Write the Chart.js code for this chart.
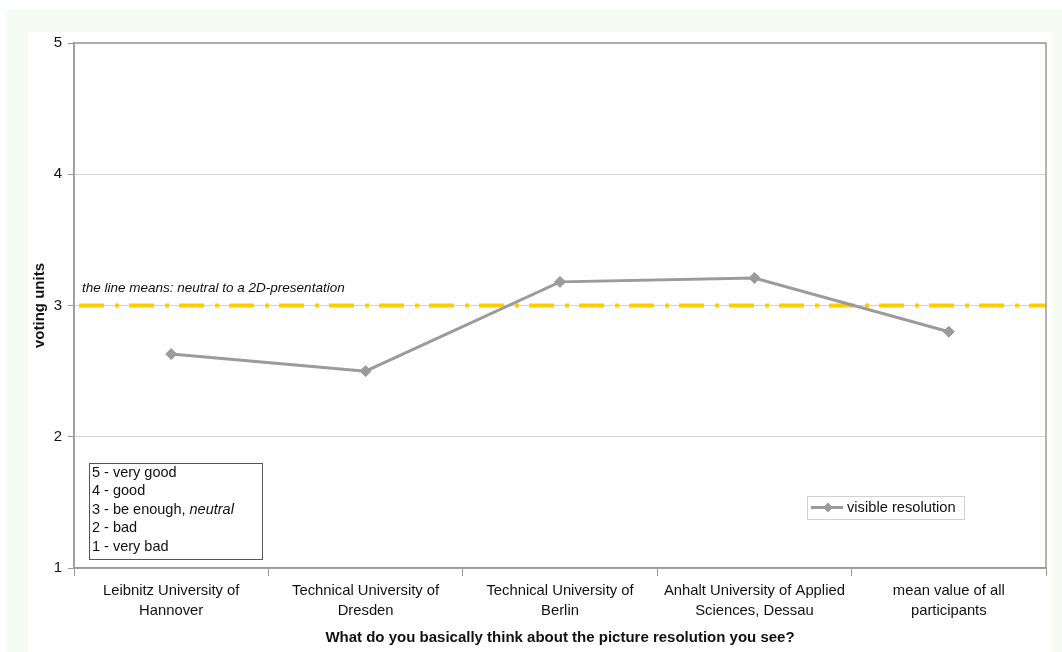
<!DOCTYPE html>
<html>
<head>
<meta charset="utf-8">
<script src="https://cdn.jsdelivr.net/npm/chart.js@4/dist/chart.umd.min.js"></script>
<style>
  html, body { margin: 0; padding: 0; background: #fff; }
  #wrap { width: 1062px; height: 652px; position: relative; }
</style>
</head>
<body>
<div id="wrap"><canvas id="c" width="1062" height="652"></canvas></div>
<script>
// Survey answers per group (voting units, 1 = very bad ... 5 = very good)
const categories = [
  ['Leibnitz University of', 'Hannover'],
  ['Technical University of', 'Dresden'],
  ['Technical University of', 'Berlin'],
  ['Anhalt University of Applied', 'Sciences, Dessau'],
  ['mean value of all', 'participants']
];
const seriesName = 'visible resolution';
const visibleResolution = [2.63, 2.50, 3.18, 3.21, 2.80];
const yTicks = [1, 2, 3, 4, 5];
const neutralValue = 3;
const neutralNote = 'the line means: neutral to a 2D-presentation';
const scaleKey = [
  ['5 - very good', ''],
  ['4 - good', ''],
  ['3 - be enough, ', 'neutral'],
  ['2 - bad', ''],
  ['1 - very bad', '']
];
const xTitle = 'What do you basically think about the picture resolution you see?';
const yTitle = 'voting units';

const FONT = "Arial, 'Liberation Sans', Helvetica, sans-serif";
const LINE_GREY = '#9b9b9b';

// page frame, plot border, neutral line and the two key boxes
const decor = {
  id: 'decor',
  beforeDraw(chart) {
    const ctx = chart.ctx;
    ctx.save();
    ctx.fillStyle = '#ffffff';
    ctx.fillRect(0, 0, chart.width, chart.height);
    ctx.fillStyle = '#f6fbf3';
    ctx.fillRect(7, 10, chart.width - 7, chart.height - 10);
    ctx.fillStyle = '#ffffff';
    ctx.fillRect(28, 32, 1024, chart.height - 32);
    ctx.restore();
  },
  beforeDatasetsDraw(chart) {
    const ctx = chart.ctx;
    const a = chart.chartArea;
    const y = chart.scales.y.getPixelForValue(neutralValue);
    ctx.save();
    // neutral reference line (dash-dot)
    ctx.strokeStyle = '#ffcc00';
    ctx.lineWidth = 4;
    ctx.setLineDash([25, 11, 4, 10]);
    ctx.lineDashOffset = -5;
    ctx.beginPath();
    ctx.moveTo(a.left, y);
    ctx.lineTo(a.right, y);
    ctx.stroke();
    ctx.setLineDash([]);
    // note above the line
    ctx.fillStyle = '#111';
    ctx.font = 'italic 13.5px ' + FONT;
    ctx.textBaseline = 'middle';
    ctx.textAlign = 'left';
    ctx.fillText(neutralNote, a.left + 8, y - 17);
    ctx.restore();
  },
  afterDraw(chart) {
    const ctx = chart.ctx;
    const a = chart.chartArea;
    ctx.save();
    // plot area outline
    ctx.strokeStyle = LINE_GREY;
    ctx.lineWidth = 1.5;
    ctx.strokeRect(a.left, a.top, a.right - a.left, a.bottom - a.top);

    // scale key box
    const kx = a.left + 15, ky = 463, kw = 173, kh = 96;
    ctx.fillStyle = '#fff';
    ctx.fillRect(kx, ky, kw, kh);
    ctx.strokeStyle = '#555';
    ctx.lineWidth = 1;
    ctx.strokeRect(kx + 0.5, ky + 0.5, kw, kh);
    ctx.fillStyle = '#111';
    ctx.textBaseline = 'middle';
    ctx.textAlign = 'left';
    scaleKey.forEach((row, i) => {
      const ty = ky + 9.5 + i * 18.6;
      ctx.font = '14.5px ' + FONT;
      ctx.fillText(row[0], kx + 3, ty);
      if (row[1]) {
        const w = ctx.measureText(row[0]).width;
        ctx.font = 'italic 14.5px ' + FONT;
        ctx.fillText(row[1], kx + 3 + w, ty);
      }
    });

    // series legend
    const lx = 807, ly = 496, lw = 157, lh = 23;
    ctx.fillStyle = '#fff';
    ctx.fillRect(lx, ly, lw, lh);
    ctx.strokeStyle = '#d0d0d0';
    ctx.strokeRect(lx + 0.5, ly + 0.5, lw, lh);
    const my = ly + lh / 2;
    ctx.strokeStyle = LINE_GREY;
    ctx.lineWidth = 3;
    ctx.beginPath();
    ctx.moveTo(lx + 4, my);
    ctx.lineTo(lx + 36, my);
    ctx.stroke();
    ctx.fillStyle = LINE_GREY;
    ctx.beginPath();
    const cx = lx + 21;
    ctx.moveTo(cx, my - 5); ctx.lineTo(cx + 5, my); ctx.lineTo(cx, my + 5); ctx.lineTo(cx - 5, my);
    ctx.closePath();
    ctx.fill();
    ctx.fillStyle = '#111';
    ctx.font = '14.7px ' + FONT;
    ctx.fillText(seriesName, lx + 40, my + 0.5);
    ctx.restore();
  }
};

new Chart(document.getElementById('c'), {
  type: 'line',
  data: {
    labels: categories,
    datasets: [{
      label: seriesName,
      data: visibleResolution,
      borderColor: LINE_GREY,
      backgroundColor: LINE_GREY,
      borderWidth: 3,
      pointStyle: 'rectRot',
      pointRadius: 5.5,
      pointBorderWidth: 1,
      pointBackgroundColor: LINE_GREY,
      pointBorderColor: LINE_GREY,
      tension: 0
    }]
  },
  options: {
    responsive: false,
    animation: false,
    devicePixelRatio: 1,
    layout: { padding: { top: 43, right: 16, left: 0, bottom: 0 } },
    plugins: { legend: { display: false }, tooltip: { enabled: false } },
    scales: {
      x: {
        type: 'category',
        offset: true,
        afterFit(s) { s.height = 84; },
        grid: { offset: true, drawOnChartArea: false, drawTicks: true, tickLength: 8, color: LINE_GREY, lineWidth: 1 },
        border: { color: LINE_GREY, width: 1.5 },
        ticks: {
          color: '#111',
          padding: 5,
          maxRotation: 0,
          autoSkip: false,
          font: { family: FONT, size: 14.8, lineHeight: '20px' }
        },
        title: {
          display: true,
          text: xTitle,
          color: '#111',
          font: { family: FONT, size: 15, weight: 'bold' },
          padding: { top: 0, bottom: 5 }
        }
      },
      y: {
        min: 1,
        max: 5,
        afterFit(s) { s.width = 74; },
        afterBuildTicks(s) { s.ticks = yTicks.map(v => ({ value: v })); },
        grid: { color: '#d4d4d4', lineWidth: 1, tickLength: 6, tickColor: LINE_GREY },
        border: { color: LINE_GREY, width: 1.5 },
        ticks: {
          color: '#111',
          padding: 6,
          font: { family: FONT, size: 15 }
        },
        title: {
          display: true,
          text: yTitle,
          color: '#111',
          font: { family: FONT, size: 15, weight: 'bold' },
          padding: { top: 31, bottom: 0 }
        }
      }
    }
  },
  plugins: [decor]
});
</script>
</body>
</html>
